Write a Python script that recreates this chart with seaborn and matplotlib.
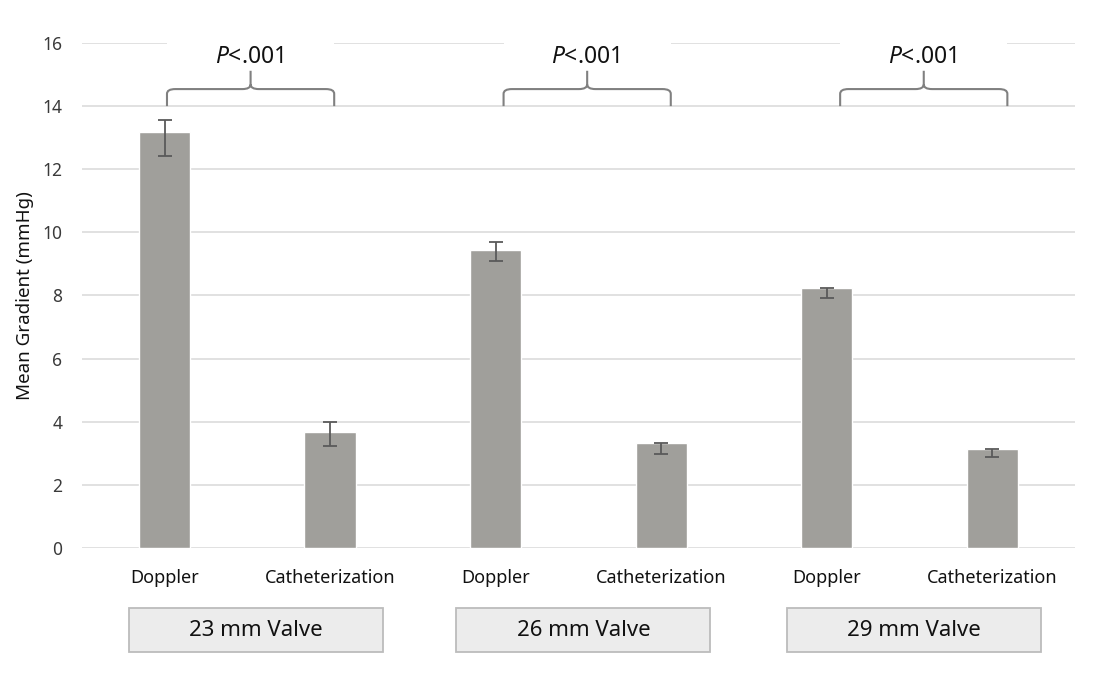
import pandas as pd
import matplotlib.pyplot as plt
import matplotlib.transforms as mtransforms
from matplotlib.patches import Rectangle, PathPatch
from matplotlib.path import Path
import seaborn as sns

valves = ['23 mm Valve', '26 mm Valve', '29 mm Valve']
methods = ['Doppler', 'Catheterization']
means = [13.18, 3.67, 9.44, 3.32, 8.23, 3.14]
err_up = [0.38, 0.33, 0.27, 0.0, 0.0, 0.0]
err_down = [0.76, 0.44, 0.34, 0.35, 0.30, 0.27]
y_ticks = [0, 2, 4, 6, 8, 10, 12, 14, 16]
p_text = ['$\\it{P}$<.001', '$\\it{P}$<.001', '$\\it{P}$<.001']

keys = [v + ' ' + m for v in valves for m in methods]
df = pd.DataFrame({'key': keys, 'mean': means})

sns.set_style('white')
plt.rcParams['font.family'] = ['Noto Sans', 'DejaVu Sans']
plt.rcParams['mathtext.fontset'] = 'custom'
plt.rcParams['mathtext.it'] = 'Noto Sans:italic'
plt.rcParams['mathtext.rm'] = 'Noto Sans'

fig = plt.figure(figsize=(10.94, 6.88), dpi=100)
ax = fig.add_axes([0.0747, 0.2035, 0.908, 0.734])

sns.barplot(data=df, x='key', y='mean', color='#a09f9b', saturation=1,
            width=0.31, errorbar=None, ax=ax, zorder=2)
xs = range(len(keys))
ax.errorbar(xs, means, yerr=[err_down, err_up], fmt='none', ecolor='#5a5a5a',
            elinewidth=1.3, capsize=5, capthick=1.3, zorder=3)

ax.set_ylim(0, 16)
ax.set_xlim(-0.5, 5.5)
ax.set_yticks(y_ticks, [str(t) for t in y_ticks], fontweight='bold')
ax.yaxis.grid(True, color='#dedede', lw=1.3)
ax.set_axisbelow(True)
for s in ax.spines.values():
    s.set_visible(False)
ax.tick_params(length=0)
ax.tick_params(axis='y', labelsize=12.5, labelcolor='#3a3a3a', pad=14)
ax.tick_params(axis='x', labelsize=13, labelcolor='#111111', pad=15)
ax.set_xticks(list(xs))
ax.set_xticklabels(methods * len(valves))
ax.set_xlabel('')
ax.set_ylabel('Mean Gradient (mmHg)', fontsize=13.5, color='#111111', labelpad=6)

# brackets with p-values
for g in range(len(valves)):
    x0 = 2 * g + 0.015 + 0.033 * g
    x1 = x0 + 1.01
    xm = (x0 + x1) / 2
    ax.add_patch(Rectangle((x0, 15.7), x1 - x0, 0.6, facecolor='white',
                           edgecolor='none', zorder=1, clip_on=False))
    yb, yh, yt = 14.0, 14.54, 15.12
    r = 0.05
    verts = [(x0, yb), (x0, yh - 0.15), (x0, yh), (x0 + r, yh),
             (xm - r, yh), (xm, yh), (xm, yh + 0.15), (xm, yt),
             (xm, yh + 0.15), (xm, yh), (xm + r, yh),
             (x1 - r, yh), (x1, yh), (x1, yh - 0.15), (x1, yb)]
    codes = [Path.MOVETO, Path.LINETO, Path.CURVE3, Path.CURVE3,
             Path.LINETO, Path.CURVE3, Path.CURVE3, Path.LINETO,
             Path.MOVETO, Path.CURVE3, Path.CURVE3,
             Path.LINETO, Path.CURVE3, Path.CURVE3, Path.LINETO]
    ax.add_patch(PathPatch(Path(verts, codes), facecolor='none',
                           edgecolor='#808080', lw=1.5, zorder=3))
    ax.text(xm - 0.01, 15.55, p_text[g], ha='center', va='center',
            fontsize=16.5, color='#111111', zorder=4)

# valve boxes under the axis
trans = mtransforms.blended_transform_factory(ax.transData, fig.transFigure)
box_cx = [0.553, 2.53, 4.525]
for g, v in enumerate(valves):
    cx = box_cx[g]
    ax.add_patch(Rectangle((cx - 0.767, 0.053), 1.534, 0.064, transform=trans,
                           facecolor='#ececec', edgecolor='#bcbcbc', lw=1.3,
                           clip_on=False))
    ax.text(cx, 0.084, v, transform=trans, ha='center', va='center',
            fontsize=16, color='#111111')

plt.savefig('out.png', dpi=100)
